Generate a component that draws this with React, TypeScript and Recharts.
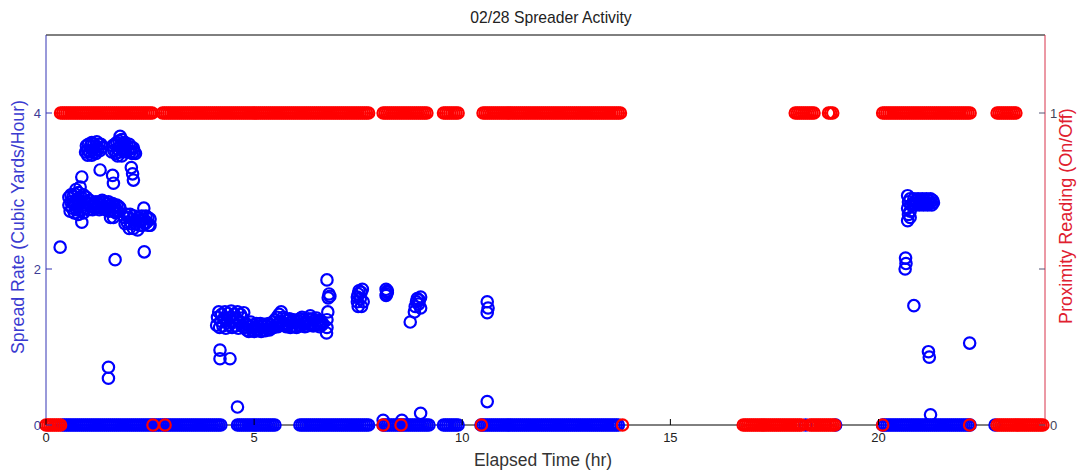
import React from 'react';
import { ScatterChart, Scatter, XAxis, YAxis } from 'recharts';

// ---------- data ----------
const xTicks = [0, 5, 10, 15, 20];
const topTicks = [5, 10, 15, 20];
const leftTicks = [0, 2, 4];
const rightTicks = [0, 0.5, 1];
const rightTickLabels: Record<string, string> = { '0': '0', '0.5': '', '1': '1' };

// spread rate readings equal to zero (elapsed hours)
const blueZeroTimes = [
  0.4, 0.45, 0.5, 0.55, 0.6, 0.65, 0.7, 0.75, 0.8, 0.85, 0.9, 0.95, 1, 1.05, 1.1, 1.15, 1.2, 1.25,
  1.3, 1.35, 1.4, 1.45, 1.5, 1.55, 1.6, 1.65, 1.7, 1.75, 1.8, 1.85, 1.9, 1.95, 2, 2.05, 2.1, 2.15,
  2.2, 2.25, 2.3, 2.35, 2.4, 2.45, 2.5, 2.55, 2.6, 2.65, 2.7, 2.75, 2.8, 2.85, 2.9, 2.95, 3, 3.05,
  3.1, 3.15, 3.2, 3.25, 3.3, 3.35, 3.4, 3.45, 3.5, 3.55, 3.6, 3.65, 3.7, 3.75, 3.8, 3.85, 3.9, 3.95,
  4, 4.05, 4.1, 4.15, 4.2,
  4.6, 4.65, 4.7, 4.75, 4.8, 4.85, 4.9, 4.95, 5, 5.05, 5.1, 5.15, 5.2, 5.25, 5.3, 5.35, 5.4, 5.45, 5.5,
  6.1, 6.15, 6.2, 6.25, 6.3, 6.35, 6.4, 6.45, 6.5, 6.55, 6.6, 6.65, 6.7, 6.75, 6.8, 6.85, 6.9, 6.95,
  7, 7.05, 7.1, 7.15, 7.2, 7.25, 7.3, 7.35, 7.4, 7.45, 7.5, 7.55, 7.6, 7.65, 7.7, 7.75,
  8.1, 8.15, 8.2, 8.25, 8.3, 8.35, 8.4, 8.45, 8.5, 8.55, 8.6, 8.65, 8.7, 8.75, 8.8, 8.85, 8.9, 8.95,
  9, 9.05, 9.1, 9.15, 9.2,
  9.55, 9.6, 9.65, 9.7, 9.75, 9.8, 9.85, 9.9,
  10.45, 10.5, 10.55, 10.6, 10.65, 10.7, 10.75, 10.8, 10.85, 10.9, 10.95, 11, 11.05, 11.1, 11.15,
  11.2, 11.25, 11.3, 11.35, 11.4, 11.45, 11.5, 11.55, 11.6, 11.65, 11.7, 11.75, 11.8, 11.85, 11.9,
  11.95, 12, 12.05, 12.1, 12.15, 12.2, 12.25, 12.3, 12.35, 12.4, 12.45, 12.5, 12.55, 12.6, 12.65,
  12.7, 12.75, 12.8, 12.85, 12.9, 12.95, 13, 13.05, 13.1, 13.15, 13.2, 13.25, 13.3, 13.35, 13.4,
  13.45, 13.5, 13.55, 13.6, 13.65, 13.7, 13.75,
  18.25, 18.97,
  20.1, 20.15, 20.2, 20.25, 20.3, 20.35, 20.4, 20.45, 20.5, 20.55, 20.6, 20.65, 20.7, 20.75, 20.8,
  20.85, 20.9, 20.95, 21, 21.05, 21.1, 21.15, 21.2, 21.25, 21.3, 21.35, 21.4, 21.45, 21.5, 21.55,
  21.6, 21.65, 21.7, 21.75, 21.8, 21.85, 21.9, 21.95, 22, 22.05, 22.1, 22.15, 22.2,
  22.8,
];

// non-zero spread rate readings [hour, cubic yards/hour]
const blueRatePoints: [number, number][] = [
  [0.34, 2.28],
  [0.55, 2.92], [0.55, 2.82], [0.58, 2.74], [0.6, 2.95], [0.6, 2.86], [0.63, 2.78], [0.65, 2.93],
  [0.65, 2.84], [0.68, 2.72], [0.7, 2.96], [0.7, 2.85], [0.72, 3.02], [0.73, 2.76], [0.75, 2.9],
  [0.75, 2.8], [0.78, 2.98], [0.78, 2.7], [0.8, 2.86], [0.82, 3.05], [0.83, 2.76], [0.85, 2.92],
  [0.86, 3.18], [0.86, 2.6], [0.88, 2.82], [0.9, 2.95], [0.9, 2.72], [0.93, 2.86], [0.95, 2.78],
  [0.97, 2.92], [1, 2.84], [1.02, 2.76], [1.05, 2.88], [1.07, 2.8], [1.1, 2.85], [1.12, 2.76],
  [1.15, 2.84], [1.18, 2.78], [1.2, 2.86], [1.22, 2.8],
  [0.95, 3.5], [0.97, 3.58], [1, 3.52], [1.02, 3.6], [1.05, 3.5], [1.07, 3.58], [1.1, 3.62],
  [1.12, 3.52], [1.15, 3.6], [1.17, 3.5], [1.2, 3.58], [1.22, 3.63], [1.25, 3.54], [1.27, 3.6],
  [1.3, 3.52], [1.32, 3.6], [1.35, 3.56], [1, 3.46], [1.1, 3.46], [1.2, 3.48],
  [1.25, 2.84], [1.28, 2.76], [1.3, 2.86], [1.33, 2.78], [1.35, 2.88], [1.38, 2.8], [1.4, 2.86],
  [1.43, 2.76], [1.45, 2.84], [1.48, 2.78], [1.5, 2.86], [1.52, 2.74], [1.55, 2.82], [1.55, 2.66],
  [1.58, 2.76], [1.6, 2.84], [1.62, 2.66], [1.63, 2.74], [1.65, 2.8], [1.68, 2.72], [1.7, 2.82],
  [1.72, 2.74], [1.75, 2.8], [1.78, 2.78],
  [1.3, 3.27], [1.6, 3.2], [1.62, 3.1], [2.05, 3.3], [2.08, 3.22], [2.1, 3.14],
  [1.58, 3.5], [1.6, 3.58], [1.63, 3.52], [1.65, 3.6], [1.68, 3.48], [1.7, 3.62], [1.72, 3.54],
  [1.75, 3.64], [1.77, 3.5], [1.78, 3.7], [1.8, 3.6], [1.82, 3.66], [1.83, 3.52], [1.85, 3.6],
  [1.88, 3.54], [1.9, 3.62], [1.92, 3.5], [1.95, 3.58], [1.97, 3.52], [2, 3.6], [2.02, 3.5],
  [2.05, 3.56], [2.07, 3.48], [2.1, 3.55], [2.12, 3.5], [2.15, 3.48], [1.72, 3.45], [1.82, 3.45],
  [1.88, 2.66], [1.9, 2.58], [1.93, 2.7], [1.95, 2.6], [1.98, 2.66], [2, 2.52], [2.02, 2.7],
  [2.05, 2.58], [2.07, 2.64], [2.1, 2.52], [2.12, 2.68], [2.15, 2.58], [2.17, 2.62], [2.2, 2.5],
  [2.22, 2.66], [2.25, 2.56], [2.27, 2.62], [2.3, 2.68], [2.32, 2.56], [2.35, 2.78], [2.35, 2.64],
  [2.38, 2.58], [2.4, 2.68], [2.42, 2.6], [2.45, 2.66], [2.47, 2.56], [2.5, 2.64], [2.5, 2.56],
  [1.66, 2.12], [2.36, 2.22], [1.5, 0.74], [1.5, 0.6],
  [4.1, 1.28], [4.12, 1.38], [4.15, 1.45], [4.17, 1.25], [4.2, 1.33], [4.22, 1.42], [4.25, 1.27],
  [4.27, 1.36], [4.3, 1.45], [4.32, 1.24], [4.35, 1.34], [4.37, 1.43], [4.4, 1.28], [4.42, 1.37],
  [4.45, 1.46], [4.47, 1.25], [4.5, 1.33], [4.52, 1.42], [4.55, 1.27], [4.57, 1.36], [4.6, 1.45],
  [4.62, 1.24], [4.65, 1.33], [4.67, 1.42], [4.7, 1.27], [4.72, 1.37], [4.75, 1.44], [4.77, 1.25],
  [4.8, 1.3], [4.82, 1.22], [4.85, 1.28], [4.87, 1.2], [4.9, 1.26], [4.92, 1.32], [4.95, 1.22],
  [4.97, 1.28], [5, 1.2], [5.02, 1.26], [5.05, 1.3], [5.07, 1.21], [5.1, 1.27], [5.12, 1.23],
  [5.15, 1.3], [5.17, 1.2], [5.2, 1.26], [5.22, 1.22], [5.25, 1.29], [5.27, 1.21], [5.3, 1.27],
  [5.32, 1.23], [5.35, 1.3], [5.37, 1.22], [5.4, 1.28], [5.42, 1.24], [5.45, 1.32],
  [5.47, 1.25], [5.5, 1.35], [5.52, 1.28], [5.55, 1.38], [5.57, 1.26], [5.6, 1.42], [5.62, 1.32],
  [5.65, 1.45], [5.67, 1.28], [5.7, 1.38], [5.72, 1.3], [5.75, 1.36], [5.77, 1.26], [5.8, 1.34],
  [5.82, 1.28], [5.85, 1.36], [5.87, 1.25], [5.9, 1.33], [5.92, 1.27], [5.95, 1.35], [5.97, 1.26],
  [6, 1.32], [6.02, 1.25], [6.05, 1.34], [6.07, 1.28], [6.1, 1.36], [6.12, 1.27], [6.15, 1.38],
  [6.17, 1.3], [6.2, 1.35], [6.22, 1.26], [6.25, 1.33], [6.27, 1.27], [6.3, 1.36], [6.32, 1.29],
  [6.35, 1.4], [6.37, 1.3], [6.4, 1.36], [6.42, 1.27], [6.45, 1.34], [6.47, 1.28], [6.5, 1.37],
  [6.52, 1.3], [6.55, 1.34], [6.57, 1.26], [6.6, 1.32], [6.62, 1.28], [6.65, 1.3],
  [6.75, 1.86], [6.8, 1.68], [6.82, 1.65], [6.78, 1.63], [6.77, 1.45], [6.75, 1.35], [6.75, 1.25],
  [6.74, 1.18],
  [4.18, 0.96], [4.18, 0.85], [4.42, 0.85], [4.6, 0.23],
  [7.48, 1.58], [7.5, 1.68], [7.52, 1.72], [7.55, 1.62], [7.57, 1.7], [7.6, 1.74], [7.62, 1.58],
  [7.5, 1.52], [7.58, 1.52], [7.48, 1.64],
  [8.17, 1.74], [8.2, 1.7], [8.17, 1.66], [8.2, 1.72], [8.18, 1.68],
  [8.85, 1.45], [8.87, 1.52], [8.9, 1.58], [8.92, 1.62], [8.95, 1.55], [8.97, 1.6], [9, 1.5],
  [9, 1.64], [8.75, 1.32],
  [10.6, 1.58], [10.62, 1.5], [10.6, 1.44],
  [10.6, 0.3], [9, 0.15], [8.1, 0.06], [8.55, 0.06],
  [20.7, 2.62], [20.72, 2.7], [20.7, 2.78], [20.72, 2.86], [20.7, 2.94], [20.76, 2.66],
  [20.76, 2.74], [20.78, 2.82], [20.76, 2.9],
  [20.82, 2.84], [20.85, 2.9], [20.88, 2.82], [20.9, 2.88], [20.93, 2.84], [20.95, 2.9],
  [20.98, 2.82], [21, 2.88], [21.03, 2.84], [21.05, 2.9], [21.08, 2.82], [21.1, 2.88],
  [21.13, 2.84], [21.15, 2.9], [21.18, 2.82], [21.2, 2.88], [21.23, 2.84], [21.25, 2.9],
  [21.28, 2.82], [21.3, 2.88], [21.32, 2.85],
  [20.65, 2.14], [20.66, 2.07], [20.64, 2.0], [20.85, 1.53], [21.2, 0.94], [21.22, 0.87],
  [22.19, 1.05], [21.25, 0.13],
];

// proximity sensor ON (1) readings, elapsed hours
const proximityOnTimes = [
  0.35, 0.4, 0.45, 0.5, 0.55, 0.6, 0.65, 0.7, 0.75, 0.8, 0.85, 0.9, 0.95, 1, 1.05, 1.1, 1.15, 1.2,
  1.25, 1.3, 1.35, 1.4, 1.45, 1.5, 1.55, 1.6, 1.65, 1.7, 1.75, 1.8, 1.85, 1.9, 1.95, 2, 2.05, 2.1,
  2.15, 2.2, 2.25, 2.3, 2.35, 2.4, 2.45, 2.5, 2.55,
  2.8, 2.85, 2.9, 2.95, 3, 3.05, 3.1, 3.15, 3.2, 3.25, 3.3, 3.35, 3.4, 3.45, 3.5, 3.55, 3.6, 3.65,
  3.7, 3.75, 3.8, 3.85, 3.9, 3.95, 4, 4.05, 4.1, 4.15, 4.2, 4.25, 4.3, 4.35, 4.4, 4.45, 4.5, 4.55,
  4.6, 4.65, 4.7, 4.75, 4.8, 4.85, 4.9, 4.95, 5, 5.05, 5.1, 5.15, 5.2, 5.25, 5.3, 5.35, 5.4, 5.45,
  5.5, 5.55, 5.6, 5.65, 5.7, 5.75, 5.8, 5.85, 5.9, 5.95, 6, 6.05, 6.1, 6.15, 6.2, 6.25, 6.3, 6.35,
  6.4, 6.45, 6.5, 6.55, 6.6, 6.65, 6.7, 6.75, 6.8, 6.85, 6.9, 6.95, 7, 7.05, 7.1, 7.15, 7.2, 7.25,
  7.3, 7.35, 7.4, 7.45, 7.5, 7.55, 7.6, 7.65, 7.7, 7.75,
  8.1, 8.15, 8.2, 8.25, 8.3, 8.35, 8.4, 8.45, 8.5, 8.55, 8.6, 8.65, 8.7, 8.75, 8.8, 8.85, 8.9,
  8.95, 9, 9.05, 9.1, 9.15,
  9.55, 9.6, 9.65, 9.7, 9.75, 9.8, 9.85, 9.9,
  10.5, 10.55, 10.6, 10.65, 10.7, 10.75, 10.8, 10.85, 10.9, 10.95, 11, 11.05, 11.1, 11.15, 11.2,
  11.25, 11.3, 11.35, 11.4, 11.45, 11.5, 11.55, 11.6, 11.65, 11.7, 11.75, 11.8, 11.85, 11.9, 11.95,
  12, 12.05, 12.1, 12.15, 12.2, 12.25, 12.3, 12.35, 12.4, 12.45, 12.5, 12.55, 12.6, 12.65, 12.7,
  12.75, 12.8, 12.85, 12.9, 12.95, 13, 13.05, 13.1, 13.15, 13.2, 13.25, 13.3, 13.35, 13.4, 13.45,
  13.5, 13.55, 13.6, 13.65, 13.7, 13.75, 13.8,
  18, 18.05, 18.1, 18.15, 18.2, 18.25, 18.3, 18.35, 18.4, 18.45,
  18.8, 18.85, 18.9,
  20.1, 20.15, 20.2, 20.25, 20.3, 20.35, 20.4, 20.45, 20.5, 20.55, 20.6, 20.65, 20.7, 20.75, 20.8,
  20.85, 20.9, 20.95, 21, 21.05, 21.1, 21.15, 21.2, 21.25, 21.3, 21.35, 21.4, 21.45, 21.5, 21.55,
  21.6, 21.65, 21.7, 21.75, 21.8, 21.85, 21.9, 21.95, 22, 22.05, 22.1, 22.15, 22.2,
  22.85, 22.9, 22.95, 23, 23.05, 23.1, 23.15, 23.2, 23.25, 23.3,
];

// proximity sensor OFF (0) readings, elapsed hours
const proximityOffTimes = [
  0, 0.05, 0.1, 0.15, 0.2, 0.25, 0.3, 0.35,
  2.57, 2.86, 8.1, 8.53, 10.46, 13.85,
  16.75, 16.8, 16.85, 16.9, 16.95, 17, 17.05, 17.1, 17.15, 17.2, 17.25, 17.3, 17.35, 17.4, 17.45,
  17.5, 17.55, 17.6, 17.65, 17.7, 17.75, 17.8, 17.85, 17.9, 17.95, 18, 18.05, 18.1, 18.15,
  18.35, 18.4, 18.45, 18.5, 18.55, 18.6, 18.65, 18.7, 18.75, 18.8, 18.85, 18.9, 18.95,
  20.1, 22.19,
  22.85, 22.9, 22.95, 23, 23.05, 23.1, 23.15, 23.2, 23.25, 23.3, 23.35, 23.4, 23.45, 23.5, 23.55,
  23.6, 23.65, 23.7, 23.75, 23.8, 23.85, 23.9, 23.95,
];

// ---------- build series ----------
const blueZeroData = blueZeroTimes.map((t) => ({ t, v: 0 }));
const blueRateData = blueRatePoints.map(([t, v]) => ({ t, v }));
const onData = proximityOnTimes.map((t) => ({ t, v: 1 }));
const offData = proximityOffTimes.map((t) => ({ t, v: 0 }));

const FONT = '"Liberation Sans", Arial, Helvetica, sans-serif';
const BLUE = '#0000ff';
const RED = '#ff0000';
const LEFT_AXIS = '#3434b4';
const RIGHT_AXIS = '#d8324a';

const Ring = (color: string) => (props: any) => {
  const { cx, cy } = props;
  if (cx == null || cy == null) return <g />;
  return <circle cx={cx} cy={cy} r={5.7} fill="none" stroke={color} strokeWidth={2.2} />;
};

const LeftTick = (props: any) => {
  const { x, y, payload } = props;
  return (
    <g>
      <line x1={x} x2={x + 6} y1={y} y2={y} stroke={LEFT_AXIS} strokeWidth={1} />
      <text x={x - 5} y={y + 4.5} textAnchor="end" fontSize={13} fontFamily={FONT} fill="#3c3c96">
        {payload.value}
      </text>
    </g>
  );
};

const RightTick = (props: any) => {
  const { x, y, payload } = props;
  return (
    <g>
      <line x1={x} x2={x - 6} y1={y} y2={y} stroke="#555577" strokeWidth={1} />
      <text x={x + 5} y={y + 4.5} textAnchor="start" fontSize={13} fontFamily={FONT} fill="#44445a">
        {rightTickLabels[String(payload.value)]}
      </text>
    </g>
  );
};

const BottomTick = (props: any) => {
  const { x, y, payload } = props;
  return (
    <g>
      <line x1={x} x2={x} y1={y} y2={y - 6} stroke="#000" strokeWidth={1} />
      <text x={x} y={y + 17} textAnchor="middle" fontSize={13} fontFamily={FONT} fill="#222">
        {payload.value}
      </text>
    </g>
  );
};

const TopTick = (props: any) => {
  const { x, y } = props;
  return <line x1={x} x2={x} y1={y} y2={y + 6} stroke="#000" strokeWidth={1} />;
};

export default function App() {
  return (
    <div style={{ position: 'absolute', left: 0, top: 0, width: 1077, height: 470, background: '#fff' }}>
      <ScatterChart
        width={1077}
        height={470}
        margin={{ top: 34, right: 31, bottom: 44, left: 45 }}
      >
        <XAxis
          xAxisId={0}
          dataKey="t"
          type="number"
          domain={[0, 24]}
          ticks={xTicks}
          interval={0}
          height={1}
          tickSize={0}
          tickMargin={0}
          tickLine={false}
          axisLine={{ stroke: '#000' }}
          tick={<BottomTick />}
        />
        <XAxis
          xAxisId="top"
          orientation="top"
          dataKey="t"
          type="number"
          domain={[0, 24]}
          ticks={topTicks}
          interval={0}
          height={1}
          tickSize={0}
          tickMargin={0}
          tickLine={false}
          axisLine={{ stroke: '#000' }}
          tick={<TopTick />}
        />
        <YAxis
          yAxisId="L"
          dataKey="v"
          type="number"
          domain={[0, 5]}
          ticks={leftTicks}
          interval={0}
          width={1}
          tickSize={0}
          tickMargin={0}
          tickLine={false}
          axisLine={{ stroke: LEFT_AXIS }}
          tick={<LeftTick />}
        />
        <YAxis
          yAxisId="R"
          orientation="right"
          dataKey="v"
          type="number"
          domain={[0, 1.25]}
          ticks={rightTicks}
          interval={0}
          width={1}
          tickSize={0}
          tickMargin={0}
          tickLine={false}
          axisLine={{ stroke: RIGHT_AXIS }}
          tick={<RightTick />}
        />
        <Scatter data={blueZeroData} yAxisId="L" xAxisId={0} shape={Ring(BLUE)} isAnimationActive={false} />
        <Scatter data={blueRateData} yAxisId="L" xAxisId={0} shape={Ring(BLUE)} isAnimationActive={false} />
        <Scatter data={onData} yAxisId="R" xAxisId={0} shape={Ring(RED)} isAnimationActive={false} />
        <Scatter data={offData} yAxisId="R" xAxisId={0} shape={Ring(RED)} isAnimationActive={false} />
      </ScatterChart>
      <svg
        width={1077}
        height={470}
        style={{ position: 'absolute', left: 0, top: 0, pointerEvents: 'none' }}
      >
        <text x={551} y={23} textAnchor="middle" fontSize={15.7} fontFamily={FONT} fill="#222">
          02/28 Spreader Activity
        </text>
        <text x={543} y={466} textAnchor="middle" fontSize={17.5} fontFamily={FONT} fill="#333">
          Elapsed Time (hr)
        </text>
        <text
          transform="translate(24,227) rotate(-90)"
          textAnchor="middle"
          fontSize={17.7}
          fontFamily={FONT}
          fill="#3a3ad0"
        >
          Spread Rate (Cubic Yards/Hour)
        </text>
        <text
          transform="translate(1072,216) rotate(-90)"
          textAnchor="middle"
          fontSize={18}
          fontFamily={FONT}
          fill="#e02030"
        >
          Proximity Reading (On/Off)
        </text>
      </svg>
    </div>
  );
}
